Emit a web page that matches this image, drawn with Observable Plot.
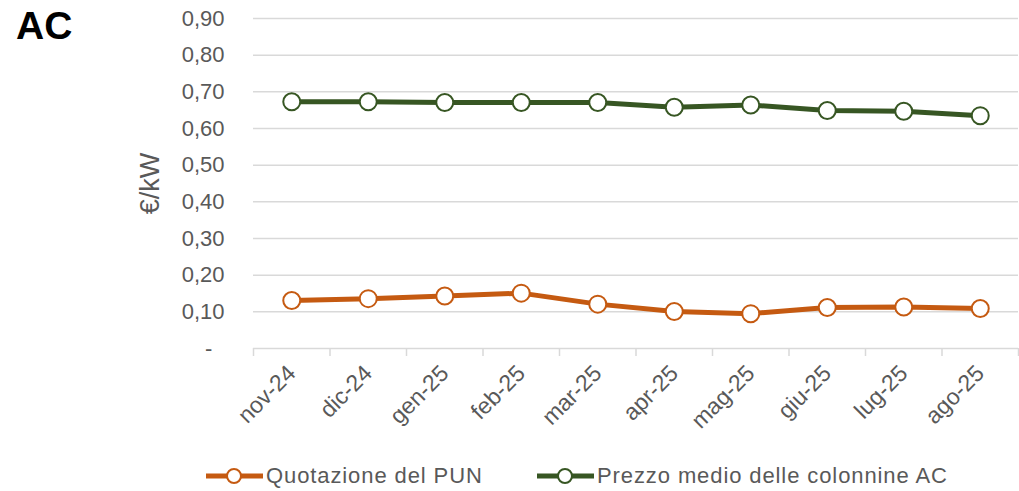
<!DOCTYPE html>
<html>
<head>
<meta charset="utf-8">
<script src="https://cdn.jsdelivr.net/npm/d3@7"></script>
<script src="https://cdn.jsdelivr.net/npm/@observablehq/plot@0.6"></script>
<style>
  html, body { margin: 0; padding: 0; background: #fff; }
  #wrap { position: relative; width: 1019px; height: 491px; font-family: "Liberation Sans", Arial, sans-serif; }
  #title { position: absolute; left: 16px; top: 4px; font-size: 39px; font-weight: bold; color: #000; }
  #legend { position: absolute; top: 463px; left: 0; width: 1019px; height: 28px; font-size: 22px; letter-spacing: 0.9px; color: #595959; }
  .li { position: absolute; display: flex; align-items: center; white-space: nowrap; }
</style>
</head>
<body>
<div id="wrap">
  <div id="chart"></div>
  <div id="title">AC</div>
  <div id="legend"></div>
</div>
<script>
const months = ["nov-24","dic-24","gen-25","feb-25","mar-25","apr-25","mag-25","giu-25","lug-25","ago-25"];
const pun = [0.131, 0.136, 0.143, 0.151, 0.121, 0.101, 0.095, 0.112, 0.113, 0.109];
const prezzoAC = [0.673, 0.673, 0.671, 0.671, 0.671, 0.658, 0.664, 0.649, 0.647, 0.635];
const seriesNames = ["Quotazione del PUN", "Prezzo medio delle colonnine AC"];
const seriesColors = ["#C55A11", "#375623"];
const yTicks = [0, 0.1, 0.2, 0.3, 0.4, 0.5, 0.6, 0.7, 0.8, 0.9];

const data = [];
[pun, prezzoAC].forEach((vals, s) => vals.forEach((v, i) => data.push({i, month: months[i], value: v, series: seriesNames[s]})));
const idx = months.map((_, i) => i);
const bounds = d3.range(months.length + 1).map(i => i - 0.5);

const fmt = d => d === 0 ? "-\u2007" : d.toFixed(2).replace(".", ",");

const chart = Plot.plot({
  width: 1019,
  height: 450,
  marginLeft: 253,
  marginRight: 1,
  marginTop: 18,
  marginBottom: 102,
  style: {fontFamily: "Liberation Sans, Arial, sans-serif", fontSize: "22px", color: "#595959", background: "#fff"},
  x: {type: "linear", domain: [-0.5, months.length - 0.5]},
  y: {domain: [0, 0.9]},
  color: {domain: seriesNames, range: seriesColors},
  marks: [
    Plot.gridY(yTicks.filter(d => d > 0), {stroke: "#D9D9D9", strokeOpacity: 1, strokeWidth: 1.5}),
    Plot.ruleY([0], {stroke: "#D9D9D9", strokeWidth: 1.5}),
    Plot.axisY(yTicks, {tickFormat: fmt, tickSize: 0, tickPadding: 29, fill: "#595959", fontSize: 22, label: null}),
    Plot.axisY({label: "€/kW", labelAnchor: "center", labelArrow: "none", labelOffset: 114, ticks: [], tickSize: 0, fill: "#595959", fontSize: 27}),
    Plot.axisX(bounds, {tickFormat: () => "", tickSize: 8, stroke: "#D9D9D9", strokeWidth: 1.5, label: null}),
    Plot.axisX(idx, {tickFormat: i => months[i], tickSize: 0, tickRotate: -45, tickPadding: 21, fill: "#595959", fontSize: 23, label: null}),
    Plot.line(data, {x: "i", y: "value", z: "series", stroke: "series", strokeWidth: 5}),
    Plot.dot(data, {x: "i", y: "value", stroke: "series", fill: "#fff", r: 8.5, strokeWidth: 2})
  ]
});
document.getElementById("chart").appendChild(chart);

const legend = document.getElementById("legend");
const lx = [206, 537];
seriesNames.forEach((name, s) => {
  const item = document.createElement("div");
  item.className = "li";
  item.style.left = lx[s] + "px";
  item.innerHTML = `<svg width="57" height="24" style="margin-right:3px"><line x1="0" y1="12" x2="57" y2="12" stroke="${seriesColors[s]}" stroke-width="5"/><circle cx="28" cy="12" r="7" fill="#fff" stroke="${seriesColors[s]}" stroke-width="2"/></svg><span>${name}</span>`;
  legend.appendChild(item);
});
</script>
</body>
</html>
